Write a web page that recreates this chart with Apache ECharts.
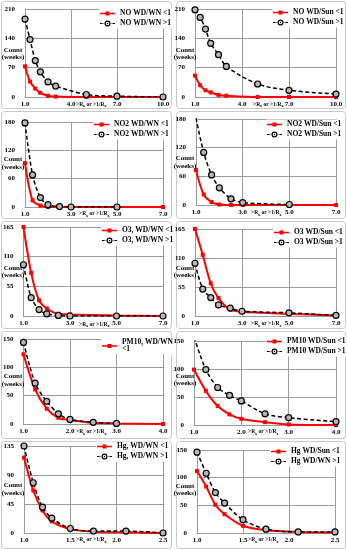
<!DOCTYPE html>
<html><head><meta charset="utf-8">
<script src="https://cdn.jsdelivr.net/npm/echarts@6/dist/echarts.min.js"></script>
<style>html,body{margin:0;padding:0;background:#fff}#c{width:347px;height:550px}</style>
</head><body><div id="c"></div>
<script>
// ---------- data ----------
const xNO   = [1.0, 1.33, 1.67, 2.0, 2.5, 3.0, 5.0, 7.0, 10.0];
const noWNlt  = [73, 37, 20, 10, 3, 1, 0, 0, 0];
const noWNgt  = [186, 137, 87, 60, 36, 26, 6, 2, 0];
const noSunlt = [51, 28, 16, 11, 5, 3, 0, 0, 0];
const noSungt = [208, 190, 162, 128, 101, 73, 31, 16, 7];

const xNO2  = [1.0, 1.33, 1.67, 2.0, 2.5, 3.0, 5.0, 7.0];
const no2WNlt  = [93, 14, 3, 0, 0, 0, 0, 0];
const no2WNgt  = [178, 68, 20, 5, 1, 0, 0];
const no2Sunlt = [73, 22, 6, 1, 0, 0, 0, 0];
const no2Sungt = [182, 110, 63, 36, 13, 5, 1];

const xO3   = [1.0, 1.33, 1.67, 2.0, 2.5, 3.0, 5.0, 7.0];
const o3WNlt  = [165, 80, 29, 14, 4, 3, 1, 0];
const o3WNgt  = [95, 34, 12, 4, 1, 0, 0, 0];
const o3Sunlt = [165, 116, 62, 34, 12, 8, 4, 1];
const o3Sungt = [100, 51, 35, 21, 15, 9, 6, 1];

const xPM   = [1.0, 1.25, 1.5, 1.75, 2.0, 2.5, 3.0, 4.0];
const pmWNlt  = [123, 61, 27, 11, 7, 2, 1, 0];
const pmWNgt  = [144, 72, 40, 18, 8, 3, 1];
const pmSunlt = [99, 61, 34, 19, 11, 5, 1, 0];
const pmSungt = [157, 99, 67, 53, 43, 20, 13, 6];

const xHg   = [1.0, 1.1, 1.2, 1.3, 1.5, 1.75, 2.1, 2.5];
const hgWNlt  = [117, 66, 35, 18, 6, 2, 1, 0];
const hgWNgt  = [135, 78, 40, 23, 7, 3, 3, 0];
const hgSunlt = [112, 84, 51, 34, 13, 5, 2, 1];
const hgSungt = [146, 108, 73, 54, 24, 7, 2, 2];

// tick settings (axis ranges)
const xMaxs = [10, 10, 7, 7, 7, 7, 4, 4, 2.5, 2.5];
const xInts = [3, 3, 2, 2, 2, 2, 1, 1, 0.5, 0.5];
const yMaxs = [210, 210, 180, 180, 165, 165, 150, 150, 135, 150];
const yInts = [70, 70, 60, 60, 55, 55, 50, 50, 45, 50];

const names = [
  ['NO WD/WN <1', 'NO WD/WN >1'],
  ['NO WD/Sun <1', 'NO WD/Sun >1'],
  ['NO2 WD/WN <1', 'NO2 WD/WN >1'],
  ['NO2 WD/Sun <1', 'NO2 WD/Sun >1'],
  ['O3, WD/WN <1', 'O3, WD/WN >1'],
  ['O3 WD/Sun <1', 'O3 WD/Sun >1'],
  ['PM10, WD/WN <1', 'PM10, WD/WN >1'],
  ['PM10 WD/Sun <1', 'PM10 WD/Sun >1'],
  ['Hg, WD/WN <1', 'Hg, WD/WN >1'],
  ['Hg WD/Sun <1', 'Hg WD/WN >1']
];
const xs = [xNO, xNO, xNO2, xNO2, xO3, xO3, xPM, xPM, xHg, xHg];
const lows = [noWNlt, noSunlt, no2WNlt, no2Sunlt, o3WNlt, o3Sunlt, pmWNlt, pmSunlt, hgWNlt, hgSunlt];
const highs = [noWNgt, noSungt, no2WNgt, no2Sungt, o3WNgt, o3Sungt, pmWNgt, pmSungt, hgWNgt, hgSungt];

// ---------- layout ----------
const grids = [
  {left:25, top:9, width:138, height:88},
  {left:195, top:9, width:141, height:88},
  {left:25, top:122, width:138, height:85},
  {left:196, top:119, width:140, height:86},
  {left:22, top:227, width:141, height:89},
  {left:195, top:229, width:141, height:87},
  {left:22, top:339, width:141, height:85},
  {left:194, top:341, width:142, height:84},
  {left:24, top:446, width:139, height:87},
  {left:197, top:450, width:138, height:83}
];
const legPos = [
  [99, 8.5], [272, 7.5], [93, 119.5], [266, 119.5], [101, 225.5],
  [273, 227.5], [101, 337.5], [266, 336.5], [96, 441.5], [270, 446.5]
];
const countPos = [
  [13, 53.5], [185, 53.5], [13, 163], [185, 162], [13, 271.5],
  [185, 271.5], [13, 380], [185, 379.5], [13, 489], [185, 489.5]
];
const xNamePos = [
  [76, 104.5], [253, 104.5], [79, 214], [251, 213], [79, 324.5],
  [251, 324], [76, 432], [248, 432], [76, 540], [248, 540]
];
const boxes = [[1,1],[176,1],[1,111],[176,111],[1,221],[176,221],[1,331],[176,331],[1,441],[176,441]];

// legend icons (15 x 6 box): red line with square, black dashes with ring
const ICON_RED = 'path://M7.5,0L7.5,0Z M7.5,6L7.5,6Z M0,2.2H5.5V1H9.5V2.2H15V3.8H9.5V5H5.5V3.8H0Z';
const ICON_BLK = 'path://M0,2.4H2.6V3.6H0Z M3.6,2.4H5V3.6H3.6Z M10,2.4H11.4V3.6H10Z M12.4,2.4H15V3.6H12.4Z ' +
  'M10.5,3A3,3 0 1,0 4.5,3A3,3 0 1,0 10.5,3Z M9.3,3A1.8,1.8 0 1,1 5.7,3A1.8,1.8 0 1,1 9.3,3Z M8.2,3A0.7,0.7 0 1,0 6.8,3A0.7,0.7 0 1,0 8.2,3Z';

const FONT = '"Liberation Serif", "Times New Roman", serif';
const GRIDC = '#9a9a9a';

const xAxis = [], yAxis = [], series = [], legend = [], graphic = [];
grids.forEach((g, i) => {
  xAxis.push({
    type:'value', gridIndex:i, min:1, max:xMaxs[i], interval:xInts[i],
    axisLine:{show:true, lineStyle:{color:GRIDC, width:1}},
    axisTick:{show:false},
    splitLine:{show:true, lineStyle:{color:GRIDC, width:1}},
    axisLabel:{margin:4, fontFamily:FONT, fontWeight:'bold', fontSize:7, color:'#000',
      formatter:v => v.toFixed(1)}
  });
  yAxis.push({
    type:'value', gridIndex:i, min:0, max:yMaxs[i], interval:yInts[i],
    axisLine:{show:true, lineStyle:{color:GRIDC, width:1}},
    axisTick:{show:false},
    splitLine:{show:true, lineStyle:{color:GRIDC, width:1}},
    axisLabel:{margin:10, fontFamily:FONT, fontWeight:'bold', fontSize:7, color:'#000'}
  });
  const x = xs[i];
  series.push({
    type:'line', name:names[i][0], xAxisIndex:i, yAxisIndex:i,
    data: lows[i].map((v, k) => [x[k], v]),
    smooth:0.3, symbol:'rect', symbolSize:4, color:'#ff0000',
    itemStyle:{color:'#ff0000'},
    lineStyle:{color:'#ff0000', width:2}, z:2
  });
  series.push({
    type:'line', name:names[i][1], xAxisIndex:i, yAxisIndex:i,
    data: highs[i].map((v, k) => [x[k], v]),
    smooth:0.3, symbol:'circle', symbolSize:6, color:'#000',
    itemStyle:{color:'#b8b8b8', borderColor:'#000', borderWidth:1.2},
    lineStyle:{color:'#000', width:1.5, type:[4,2.5]}, z:3
  });
  const items = [
    {name:names[i][0], icon:ICON_RED, itemStyle:{color:'#ff0000', borderWidth:0}},
    {name:names[i][1], icon:ICON_BLK, itemStyle:{color:'#000', borderWidth:0}}
  ];
  const leg = {
    left:legPos[i][0], top:legPos[i][1], orient:'vertical',
    itemWidth:15, itemHeight:6, itemGap:2, padding:[1,1,1,1],
    backgroundColor:'#fff', selectedMode:false,
    textStyle:{fontFamily:FONT, fontWeight:'bold', fontSize:7.5, color:'#000', lineHeight:7},
    data: i === 6 ? [items[0]] : items
  };
  if (i === 6) leg.formatter = () => 'PM10, WD/WN\n<1';
  legend.push(leg);

  graphic.push({
    type:'rect', silent:true, z:-10,
    shape:{x:boxes[i][0]+0.5, y:boxes[i][1]+0.5, width:i%2 ? 169 : 170, height:107, r:3},
    style:{fill:'#fff', stroke:'#c8c8c8', lineWidth:1}
  });
  graphic.push({
    type:'text', silent:true, x:countPos[i][0], y:countPos[i][1], z:50,
    style:{text:'Count\n(weeks)', fontFamily:'Liberation Serif', fontWeight:'bold', fontSize:7,
      lineHeight:7.5, align:'center', verticalAlign:'middle', fill:'#000'}
  });
  graphic.push({
    type:'text', silent:true, x:xNamePos[i][0], y:xNamePos[i][1], z:50,
    style:{text:'{a|>R}{s|x}{a| or >1/R}{s|x}', verticalAlign:'middle', align:'left',
      rich:{
        a:{fontFamily:'Liberation Serif', fontWeight:'bold', fontSize:5.5, fill:'#000', lineHeight:8},
        s:{fontFamily:'Liberation Serif', fontWeight:'bold', fontSize:4, fill:'#000', lineHeight:8, padding:[3,0,0,0]}
      }}
  });
});

const chart = echarts.init(document.getElementById('c'));
chart.setOption({
  animation:false,
  backgroundColor:'#fff',
  grid: grids,
  xAxis, yAxis, series, legend, graphic
});
</script>
</body></html>
